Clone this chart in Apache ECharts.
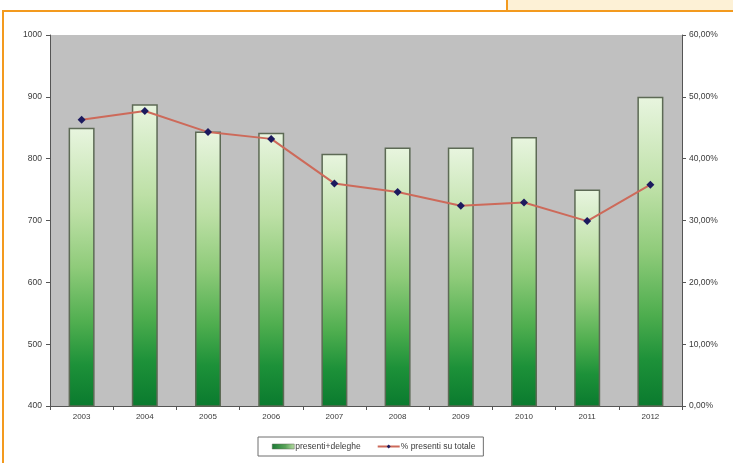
<!DOCTYPE html>
<html>
<head>
<meta charset="utf-8">
<script src="https://cdn.jsdelivr.net/npm/echarts@6/dist/echarts.min.js"></script>
<style>
  html, body { margin: 0; padding: 0; background: #ffffff; }
  #chart { width: 733px; height: 463px; }
</style>
</head>
<body>
<div id="chart"></div>
<script>
// Categories and values
const years = ['2003', '2004', '2005', '2006', '2007', '2008', '2009', '2010', '2011', '2012'];
const presentiDeleghe = [850, 888, 844, 842, 808, 818, 818, 835, 750, 900];
const percPresenti = [46.3, 47.7, 44.3, 43.2, 36.0, 34.6, 32.4, 32.9, 29.9, 35.8];

// Axis ranges
const leftAxisRange = { min: 400, max: 1000, interval: 100 };
const rightAxisRange = { min: 0, max: 60, interval: 10 };

const seriesNames = ['presenti+deleghe', '% presenti su totale'];

const chart = echarts.init(document.getElementById('chart'), null, { renderer: 'canvas' });

const textStyle = { color: '#3a3a3a', fontFamily: 'Liberation Sans, Arial, sans-serif' };
const axisLineStyle = { color: '#555555', width: 1 };

const barGradient = new echarts.graphic.LinearGradient(0, 0, 0, 1, [
  { offset: 0, color: '#e8f5df' },
  { offset: 0.3, color: '#bde0a6' },
  { offset: 0.5, color: '#8fcb7a' },
  { offset: 0.7, color: '#4fae4f' },
  { offset: 0.85, color: '#1d9139' },
  { offset: 1, color: '#0a7a2e' }
]);

// horizontal version for the legend swatch
const swatchGradient = new echarts.graphic.LinearGradient(0, 0, 1, 0, [
  { offset: 0, color: '#1a7a34' },
  { offset: 0.6, color: '#5aa55a' },
  { offset: 1, color: '#b8dca4' }
]);

chart.setOption({
  animation: false,
  backgroundColor: '#ffffff',
  textStyle: textStyle,
  graphic: [
    // page frame
    {
      type: 'polyline',
      shape: { points: [[3, 470], [3, 11], [740, 11]] },
      style: { stroke: '#f39a1e', lineWidth: 2, fill: null },
      z: 0
    },
    {
      type: 'rect',
      shape: { x: 507, y: -4, width: 240, height: 15 },
      style: { fill: '#fdf1d6', stroke: '#f39a1e', lineWidth: 2 },
      z: 0
    }
  ],
  grid: {
    left: 50,
    right: 51,
    top: 35,
    bottom: 57,
    show: true,
    backgroundColor: '#c0c0c0',
    borderWidth: 0
  },
  legend: {
    left: 258,
    top: 437,
    width: 227,
    data: [
      { name: seriesNames[0], icon: 'rect', itemStyle: { color: swatchGradient, borderColor: '#5d6a55', borderWidth: 0.5 } },
      { name: seriesNames[1] }
    ],
    itemGap: 16,
    padding: [5, 8, 5, 14],
    backgroundColor: '#ffffff',
    borderColor: '#6e6e6e',
    borderWidth: 1,
    itemWidth: 22,
    itemHeight: 5,
    textStyle: { fontSize: 8.5, color: '#3a3a3a', padding: [0, 0, 0, -4] }
  },
  xAxis: {
    type: 'category',
    data: years,
    boundaryGap: true,
    axisLine: { lineStyle: axisLineStyle },
    axisTick: { show: true, length: 4, lineStyle: axisLineStyle },
    axisLabel: { fontSize: 8, margin: 7, color: '#3a3a3a' },
    splitLine: { show: false }
  },
  yAxis: [
    {
      type: 'value',
      min: leftAxisRange.min,
      max: leftAxisRange.max,
      interval: leftAxisRange.interval,
      position: 'left',
      axisLine: { show: true, lineStyle: axisLineStyle },
      axisTick: { show: true, length: 4, lineStyle: axisLineStyle },
      axisLabel: { fontSize: 8.5, margin: 8, color: '#3a3a3a', formatter: v => String(v) },
      splitLine: { show: false }
    },
    {
      type: 'value',
      min: rightAxisRange.min,
      max: rightAxisRange.max,
      interval: rightAxisRange.interval,
      position: 'right',
      axisLine: { show: true, lineStyle: axisLineStyle },
      axisTick: { show: true, length: 4, lineStyle: axisLineStyle },
      axisLabel: {
        fontSize: 8.5,
        margin: 7,
        color: '#3a3a3a',
        formatter: v => v.toFixed(2).replace('.', ',') + '%'
      },
      splitLine: { show: false }
    }
  ],
  series: [
    {
      name: seriesNames[0],
      type: 'bar',
      yAxisIndex: 0,
      data: presentiDeleghe,
      barWidth: 26,
      itemStyle: {
        color: barGradient,
        borderColor: '#5d6a55',
        borderWidth: 1.5
      },
      z: 2
    },
    {
      name: seriesNames[1],
      type: 'line',
      yAxisIndex: 1,
      data: percPresenti,
      symbol: 'diamond',
      symbolSize: 8,
      lineStyle: { color: '#cd6a5a', width: 2 },
      itemStyle: { color: '#1c1a5e', borderWidth: 0 },
      z: 3
    }
  ]
});
</script>
</body>
</html>
